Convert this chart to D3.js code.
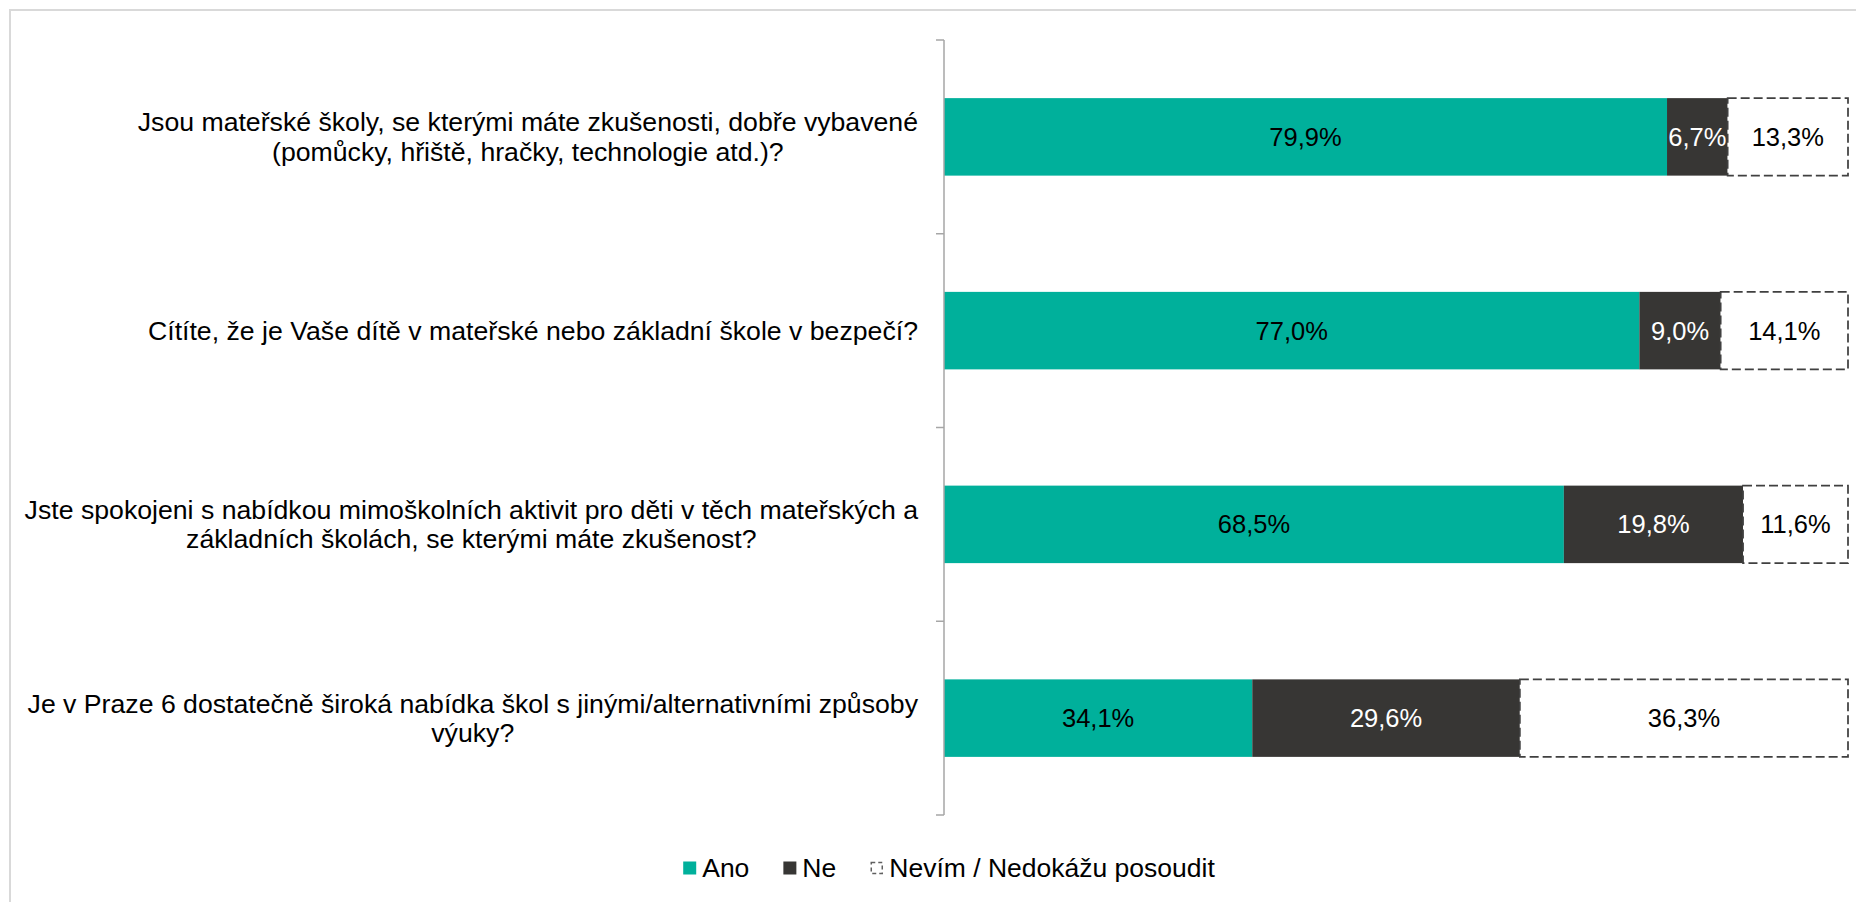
<!DOCTYPE html>
<html>
<head>
<meta charset="utf-8">
<script src="https://cdn.jsdelivr.net/npm/d3@7"></script>
<style>
  html, body { margin: 0; padding: 0; background: #fff; }
  svg { display: block; font-family: "Liberation Sans", Arial, sans-serif; }
</style>
</head>
<body>
<svg id="chart" width="1856" height="902"></svg>
<script>
// ---- Data ----
const categories = [
  ["Jsou mateřské školy, se kterými máte zkušenosti, dobře vybavené", "(pomůcky, hřiště, hračky, technologie atd.)?"],
  ["Cítíte, že je Vaše dítě v mateřské nebo základní škole v bezpečí?"],
  ["Jste spokojeni s nabídkou mimoškolních aktivit pro děti v těch mateřských a", "základních školách, se kterými máte zkušenost?"],
  ["Je v Praze 6 dostatečně široká nabídka škol s jinými/alternativními způsoby", "výuky?"]
];
const seriesNames = ["Ano", "Ne", "Nevím / Nedokážu posoudit"];
const ano = [79.9, 77.0, 68.5, 34.1];
const ne = [6.7, 9.0, 19.8, 29.6];
const nevim = [13.3, 14.1, 11.6, 36.3];
const colors = ["#00B09B", "#373634", "#FFFFFF"];
const labelColors = ["#000000", "#FFFFFF", "#000000"];

// ---- Layout ----
const svg = d3.select("#chart");
const catFont = 26.67, valFont = 25.5, legFont = 26.5;
const axisX = 944, rightX = 1848, topY = 40, bottomY = 815;

// frame
svg.append("rect").attr("x", 10).attr("y", 10).attr("width", 1900).attr("height", 950)
  .attr("fill", "none").attr("stroke", "#d9d9d9").attr("stroke-width", 2);

const ids = categories.map((d, i) => i);
const y = d3.scaleBand().domain(ids).range([topY, bottomY]).paddingInner(0.6).paddingOuter(0.3);
const yAxisScale = d3.scaleBand().domain(ids).range([topY, bottomY]);
const x = d3.scaleLinear().domain([0, 1]).range([axisX, rightX]);

const rows = ids.map(i => {
  const vals = [ano[i], ne[i], nevim[i]];
  const total = d3.sum(vals);
  let acc = 0;
  return vals.map((v, s) => {
    const seg = { row: i, s, v, x0: acc / total, x1: (acc + v) / total };
    acc += v;
    return seg;
  });
});

const fmt = v => d3.format(".1f")(v).replace(".", ",") + "%";

const g = svg.append("g");
rows.forEach(segs => {
  segs.forEach(d => {
    const r = g.append("rect")
      .attr("x", x(d.x0)).attr("y", y(d.row))
      .attr("width", x(d.x1) - x(d.x0)).attr("height", y.bandwidth())
      .attr("fill", colors[d.s]);
    if (d.s === 2) {
      r.attr("stroke", "#404040").attr("stroke-width", 1.75).attr("stroke-dasharray", "9,4");
    }
    g.append("text")
      .attr("x", (x(d.x0) + x(d.x1)) / 2)
      .attr("y", y(d.row) + y.bandwidth() / 2)
      .attr("dy", "0.35em")
      .attr("text-anchor", "middle")
      .attr("font-size", valFont)
      .attr("fill", labelColors[d.s])
      .text(fmt(d.v));
  });
});

// axis line with ticks (left side)
const axisG = svg.append("g");
axisG.append("line").attr("x1", axisX).attr("x2", axisX).attr("y1", topY).attr("y2", bottomY)
  .attr("stroke", "#a6a6a6").attr("stroke-width", 1.5);
const tickYs = ids.map(i => yAxisScale(i)).concat([bottomY]);
tickYs.forEach(ty => {
  axisG.append("line").attr("x1", axisX - 8).attr("x2", axisX).attr("y1", ty).attr("y2", ty)
    .attr("stroke", "#a6a6a6").attr("stroke-width", 1.5);
});

// category labels: block right-aligned, lines centered within block
const labelRight = 918, lineH = 29.5;
categories.forEach((lines, i) => {
  const tg = svg.append("g");
  const texts = lines.map(l => tg.append("text").attr("font-size", catFont).attr("fill", "#000").text(l));
  const widths = texts.map(t => t.node().getComputedTextLength());
  const maxW = d3.max(widths);
  const cx = labelRight - maxW / 2;
  const cy = y(i) + y.bandwidth() / 2;
  const n = lines.length;
  texts.forEach((t, k) => {
    t.attr("x", cx).attr("text-anchor", "middle")
      .attr("y", cy + (k - (n - 1) / 2) * lineH).attr("dy", "0.35em");
  });
});

// legend
const legend = svg.append("g");
const legendY = 868, sq = 13, gapTxt = 6, gapItem = 34;
let lx = 0;
const items = seriesNames.map((name, s) => {
  const it = legend.append("g");
  const box = it.append("rect").attr("x", 0).attr("y", legendY - sq / 2).attr("width", sq).attr("height", sq)
    .attr("fill", colors[s]);
  if (s === 2) box.attr("stroke", "#606060").attr("stroke-width", 1.5).attr("stroke-dasharray", "4,3")
    .attr("x", 1).attr("y", legendY - sq / 2 + 1).attr("width", sq - 2).attr("height", sq - 2);
  const t = it.append("text").attr("x", sq + gapTxt).attr("y", legendY).attr("dy", "0.35em")
    .attr("font-size", legFont).attr("fill", "#000").text(name);
  const w = sq + gapTxt + t.node().getComputedTextLength();
  it.attr("transform", `translate(${lx},0)`);
  lx += w + gapItem;
  return it;
});
const totalW = lx - gapItem;
legend.attr("transform", `translate(${949 - totalW / 2},0)`);
</script>
</body>
</html>
